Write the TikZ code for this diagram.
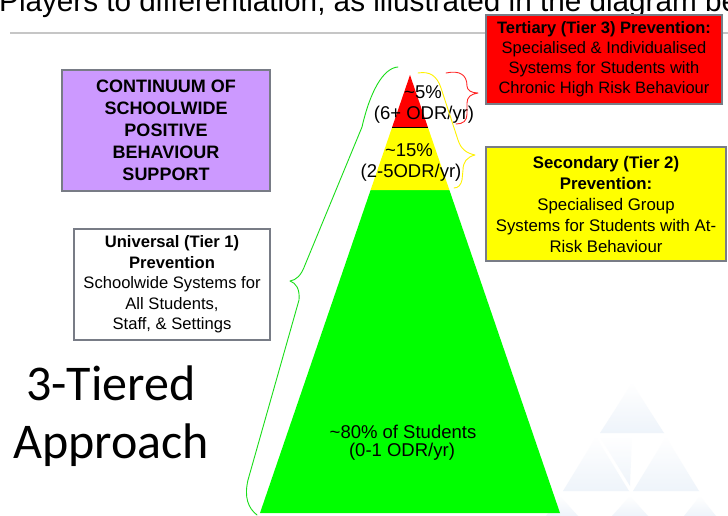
\documentclass[tikz,border=0pt]{standalone}
\usepackage{fontspec}
\setmainfont{Liberation Sans}
\newfontfamily\tierfont{Carlito}
\usepackage{tikz}
\usetikzlibrary{calc,positioning}
\definecolor{tierRed}{RGB}{255,0,0}
\definecolor{tierYellow}{RGB}{255,255,0}
\definecolor{tierGreen}{RGB}{0,255,0}
\definecolor{pbsPurple}{RGB}{204,153,255}
\definecolor{boxEdge}{RGB}{120,124,134}
\definecolor{bgTri}{RGB}{214,228,244}

\begin{document}
\begin{tikzpicture}[x=1pt,y=-1pt,
  tierbox/.style={rectangle,draw=boxEdge,line width=1.2pt,align=center,inner sep=0pt,
                  font=\fontsize{16.5}{20}\selectfont},
  pct/.style={font=\fontsize{18.5}{20}\selectfont,align=center,inner sep=0pt},
  brace/.style={line width=0.9pt,line cap=round,line join=round},
  bgtri/.style={top color=white,bottom color=bgTri,draw=none,opacity=0.4}
]
  \useasboundingbox (0,0) rectangle (728,516);
  \clip (0,0) rectangle (728,516);
  \fill[white] (0,0) rectangle (728,516);

  % faint triangles in the corner
  \shade[bgtri] (632,383) -- (600,433) -- (664,433) -- cycle;
  \shade[bgtri] (596,437) -- (563,491) -- (629,491) -- cycle;
  \shade[bgtri] (666,437) -- (633,491) -- (699,491) -- cycle;
  \shade[bgtri] (632,437) -- (600,437) -- (630,486) -- cycle;
  \shade[bgtri] (560,496) -- (546,516) -- (578,516) -- cycle;
  \shade[bgtri] (630,496) -- (612,516) -- (648,516) -- cycle;
  \shade[bgtri] (700,496) -- (684,516) -- (716,516) -- cycle;

  % running text and rule above the figure
  \node[anchor=base west,inner sep=0pt,font=\fontsize{29.7}{30}\selectfont] (head) at (-1,12)
      {Players to differentiation, as illustrated in the diagram be};
  \draw[gray!45,line width=1.8pt] (10,33) -- (728,33);

  % pyramid
  \coordinate (apex) at (410,75);
  \coordinate (bl) at (260,513);
  \coordinate (br) at (560,513);
  \coordinate (rl) at ($(apex)!0.1187!(bl)$);
  \coordinate (rr) at ($(apex)!0.1187!(br)$);
  \coordinate (yl) at ($(apex)!0.2626!(bl)$);
  \coordinate (yr) at ($(apex)!0.2626!(br)$);
  \fill[tierGreen] (yl) -- (yr) -- (br) -- (bl) -- cycle;
  \fill[tierYellow] (rl) -- (rr) -- (yr) -- (yl) -- cycle;
  \fill[tierRed] (apex) -- (rr) -- (rl) -- cycle;
  \draw[black,line width=0.9pt] (rl) -- (rr);

  \node[pct] (p3)  at (423,92)  {\textasciitilde5\%};
  \node[pct] (o3)  at (424,115) {(6+ ODR/yr)};
  \node[pct] (p2)  at (409,150) {\textasciitilde15\%};
  \node[pct] (o2)  at (411,173) {(2-5ODR/yr)};
  \node[pct] (p1)  at (403,432) {\textasciitilde80\% of Students};
  \node[pct] (o1)  at (402,452) {(0-1 ODR/yr)};

  % braces beside the tiers
  \draw[brace,red!85] (446,73) .. controls (460,70) and (467,75) .. (467,86)
      .. controls (467,90) and (471,93) .. (478,93)
      .. controls (471,94) and (467,97) .. (467,103) -- (467,114)
      .. controls (467,121) and (463,124) .. (456,124);
  \draw[brace,tierYellow!90!orange] (418,73) .. controls (430,71) and (437,76) .. (441,88)
      -- (458,140) .. controls (461,149) and (466,153) .. (475,155)
      .. controls (467,157) and (463,162) .. (463,170) -- (462,180)
      .. controls (461,185) and (458,188) .. (454,188);
  \draw[brace,green!85!black!90] (398,67) .. controls (383,68) and (370,92) .. (362,127)
      -- (305,265) .. controls (301,276) and (296,280) .. (290,281)
      .. controls (296,283) and (300,289) .. (299,300) -- (248,480)
      .. controls (244,497) and (248,508) .. (257,515);

  % tier boxes
  \node[tierbox,fill=tierRed,minimum width=236,minimum height=89] (tier3) at (604,59.5)
      {\textbf{Tertiary (Tier 3) Prevention:}\\Specialised \& Individualised\\
       Systems for Students with\\Chronic High Risk Behaviour};
  \node[tierbox,fill=tierYellow,minimum width=240,minimum height=114,
        font=\fontsize{16.8}{21}\selectfont] (tier2) at (606,204)
      {\textbf{Secondary (Tier 2)}\\\textbf{Prevention:}\\Specialised Group\\
       Systems for Students with At-\\Risk Behaviour};
  \node[tierbox,fill=pbsPurple,minimum width=208,minimum height=121,
        font=\fontsize{18}{22}\selectfont\bfseries] (pbs) at (166,130.5)
      {CONTINUUM OF\\SCHOOLWIDE\\POSITIVE\\BEHAVIOUR\\SUPPORT};
  \node[tierbox,fill=white,minimum width=196,minimum height=111,
        font=\fontsize{16.6}{20.5}\selectfont] (tier1) at (172,284.5)
      {\textbf{Universal (Tier 1)}\\\textbf{Prevention}\\Schoolwide Systems for\\
       All Students,\\Staff, \& Settings};

  % title
  \node[anchor=base west,inner sep=0pt,font=\tierfont\fontsize{50}{58}\selectfont] (t1) at (26,400) {3-Tiered};
  \node[anchor=base west,inner sep=0pt,font=\tierfont\fontsize{50}{58}\selectfont] (t2) at (13,458) {Approach};
\end{tikzpicture}
\end{document}
